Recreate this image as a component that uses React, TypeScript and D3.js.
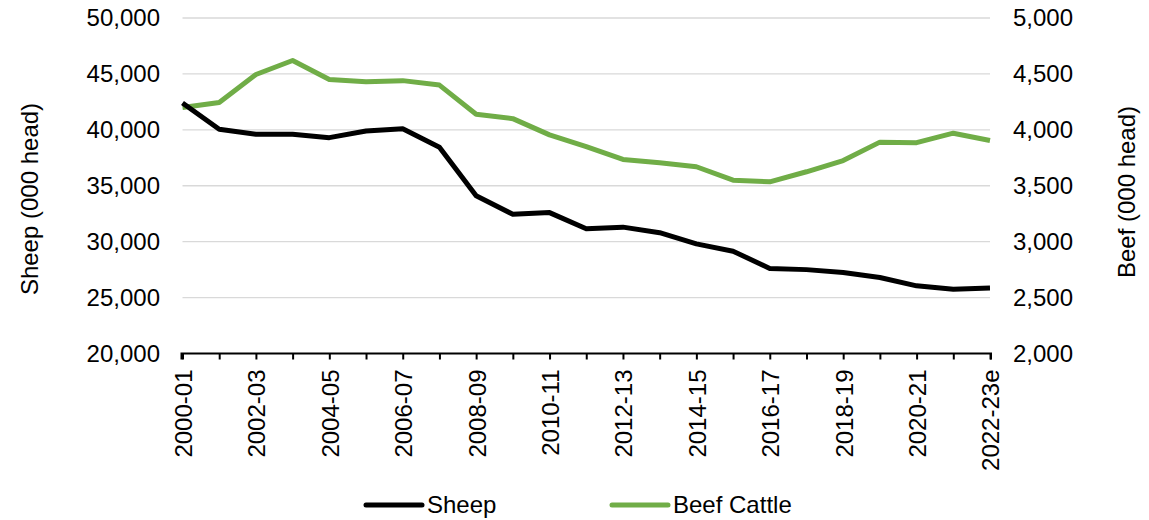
import React, { useEffect, useRef } from 'react'
import * as d3 from 'd3'

const categories = [
    '2000-01', '2001-02', '2002-03', '2003-04', '2004-05', '2005-06', '2006-07', '2007-08',
    '2008-09', '2009-10', '2010-11', '2011-12', '2012-13', '2013-14', '2014-15', '2015-16',
    '2016-17', '2017-18', '2018-19', '2019-20', '2020-21', '2021-22', '2022-23e',
]

// sheep numbers, 000 head (left axis)
const sheep = [
    42400, 40050, 39600, 39600, 39300, 39900, 40100, 38450, 34100, 32450, 32600, 31150,
    31300, 30800, 29800, 29150, 27600, 27500, 27250, 26800, 26050, 25750, 25850,
]

// beef cattle, 000 head (right axis)
const beef = [
    4200, 4245, 4495, 4620, 4450, 4430, 4440, 4400, 4140, 4100, 3955, 3850,
    3735, 3705, 3670, 3550, 3535, 3625, 3725, 3890, 3885, 3970, 3905,
]

const leftTicks = [20000, 25000, 30000, 35000, 40000, 45000, 50000]
const rightTicks = [2000, 2500, 3000, 3500, 4000, 4500, 5000]

const width = 1149
const height = 520
const margin = { top: 18, right: 159, bottom: 166.5, left: 182.5 }
const font = '"Liberation Sans", Arial, sans-serif'
const green = '#70ad47'

export default function App() {
    const chart = useRef<SVGSVGElement>(null)

    useEffect(() => {
        const svg = d3.select(chart.current)
        svg.selectAll('*').remove()

        const x = d3.scalePoint<string>()
            .domain(categories)
            .range([margin.left, width - margin.right])

        const yL = d3.scaleLinear()
            .domain([20000, 50000])
            .range([height - margin.bottom, margin.top])

        const yR = d3.scaleLinear()
            .domain([2000, 5000])
            .range([height - margin.bottom, margin.top])

        const fmt = d3.format(',')

        // gridlines
        svg.append('g')
            .selectAll('line')
            .data(leftTicks.slice(1))
            .join('line')
            .attr('x1', margin.left)
            .attr('x2', width - margin.right)
            .attr('y1', d => yL(d))
            .attr('y2', d => yL(d))
            .attr('stroke', '#d9d9d9')
            .attr('stroke-width', 1.3)

        // left axis labels
        svg.append('g')
            .selectAll('text')
            .data(leftTicks)
            .join('text')
            .attr('x', 160)
            .attr('y', d => yL(d))
            .attr('dy', '0.35em')
            .attr('text-anchor', 'end')
            .text(d => fmt(d))

        // right axis labels
        svg.append('g')
            .selectAll('text')
            .data(rightTicks)
            .join('text')
            .attr('x', 1013)
            .attr('y', d => yR(d))
            .attr('dy', '0.35em')
            .text(d => fmt(d))

        // x axis
        const xAxis = d3.axisBottom(x).tickSize(6).tickSizeOuter(0).tickFormat(() => '')
        svg.append('g')
            .attr('transform', `translate(0,${height - margin.bottom})`)
            .call(xAxis)
            .call(g => g.select('.domain').attr('stroke', '#000').attr('stroke-width', 2)
                .attr('d', `M${margin.left - 1},6V0H${width - margin.right + 1}V6`))
            .call(g => g.selectAll('.tick line').attr('stroke', '#000').attr('stroke-width', 2))

        // category labels, every other one
        svg.append('g')
            .selectAll('text')
            .data(categories.filter((_, i) => i % 2 === 0))
            .join('text')
            .attr('transform', d => `translate(${x(d)! + 1},${height - margin.bottom + 16}) rotate(-90)`)
            .attr('dy', '0.35em')
            .attr('text-anchor', 'end')
            .text(d => d)

        // axis titles
        svg.append('text')
            .attr('transform', 'translate(30,199) rotate(-90)')
            .attr('dy', '0.35em')
            .attr('text-anchor', 'middle')
            .text('Sheep (000 head)')

        svg.append('text')
            .attr('transform', 'translate(1127,192) rotate(-90)')
            .attr('dy', '0.35em')
            .attr('text-anchor', 'middle')
            .text('Beef (000 head)')

        // lines
        const sheepLine = d3.line<number>()
            .x((_, i) => x(categories[i])!)
            .y(d => yL(d))

        const beefLine = d3.line<number>()
            .x((_, i) => x(categories[i])!)
            .y(d => yR(d))

        svg.append('path')
            .datum(beef)
            .attr('fill', 'none')
            .attr('stroke', green)
            .attr('stroke-width', 5)
            .attr('stroke-linejoin', 'round')
            .attr('d', beefLine)

        svg.append('path')
            .datum(sheep)
            .attr('fill', 'none')
            .attr('stroke', '#000')
            .attr('stroke-width', 5)
            .attr('stroke-linejoin', 'round')
            .attr('d', sheepLine)

        // legend
        const legend = [
            { label: 'Sheep', color: '#000', x: 366 },
            { label: 'Beef Cattle', color: green, x: 612 },
        ]
        const lg = svg.append('g').selectAll('g').data(legend).join('g')
            .attr('transform', d => `translate(${d.x},505)`)
        lg.append('line')
            .attr('x1', 0).attr('x2', 56)
            .attr('stroke', d => d.color)
            .attr('stroke-width', 5)
            .attr('stroke-linecap', 'round')
        lg.append('text')
            .attr('x', 61)
            .attr('dy', '0.35em')
            .text(d => d.label)
    }, [])

    return (
        <div style={{ position: 'absolute', left: 0, top: 0 }}>
            <svg ref={chart} width={width} height={height}
                style={{ display: 'block', fontFamily: font, fontSize: 24, fill: '#000', background: '#fff' }} />
        </div>
    )
}
